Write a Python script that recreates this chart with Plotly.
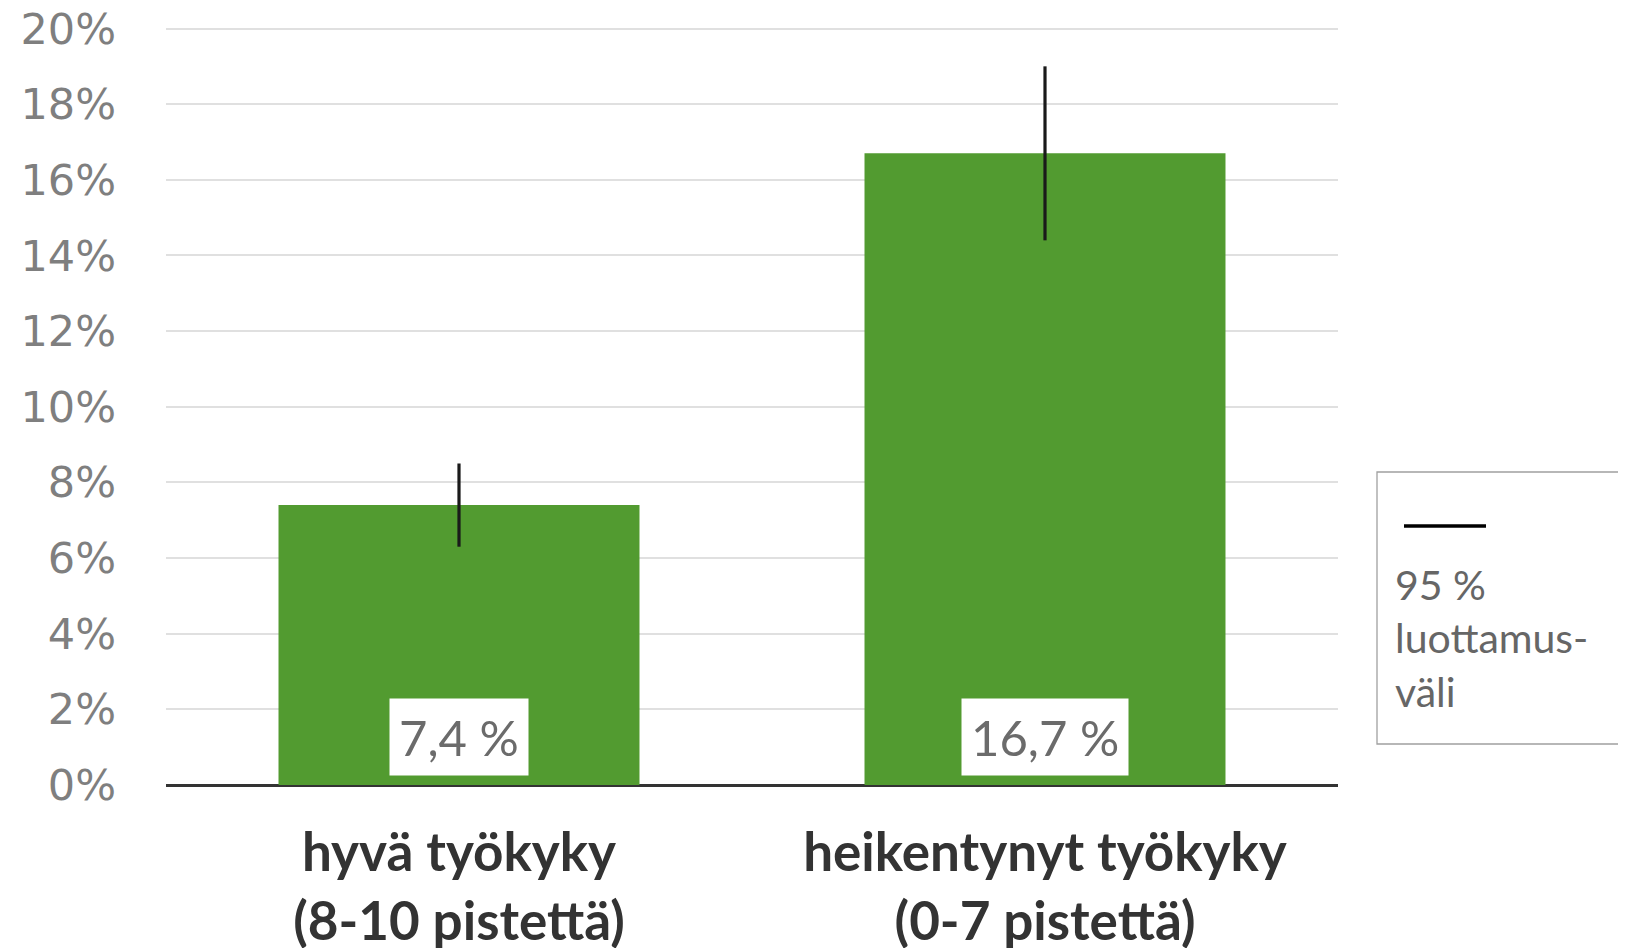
import plotly.graph_objects as go

categories = ["hyvä työkyky<br>(8-10 pistettä)", "heikentynyt työkyky<br>(0-7 pistettä)"]
values = [7.4, 16.7]
err_plus = [1.1, 2.3]
err_minus = [1.1, 2.3]
value_labels = ["7,4 %", "16,7 %"]
tick_vals = [0, 2, 4, 6, 8, 10, 12, 14, 16, 18, 20]
tick_text = [f"{v}%" for v in tick_vals]
legend_text = "95 %<br>luottamus-<br>väli"

OFF = 8  # page body margin
L, R, T, B = 166 - OFF, 1338 - OFF, 27 - OFF, 785 - OFF
PW, PH = R - L, B - T

def px(x):
    return (x - OFF - L) / PW

def py(y):
    return (B - (y - OFF)) / PH

fig = go.Figure()
fig.add_trace(go.Bar(
    x=categories, y=values,
    marker=dict(color="#529B30", line=dict(width=0)),
    error_y=dict(type="data", array=err_plus, arrayminus=err_minus,
                 color="#1a1a1a", thickness=3.2, width=0),
    showlegend=False, hoverinfo="skip",
))

for c, v, t in zip(categories, values, value_labels):
    fig.add_annotation(x=c, y=0, xref="x", yref="y", text=t, showarrow=False,
                       yanchor="bottom", yshift=9, bgcolor="white", borderpad=9,
                       font=dict(family="Lato, Noto Sans", size=49, color="#6b6b6b"))

# legend box
fig.add_shape(type="rect", xref="paper", yref="paper", x0=px(1377), x1=px(1650),
              y0=py(744), y1=py(472), line=dict(color="#a0a0a0", width=1.3), fillcolor="white")
fig.add_shape(type="line", xref="paper", yref="paper", x0=px(1404), x1=px(1486),
              y0=py(526), y1=py(526), line=dict(color="black", width=3.5))
fig.add_annotation(xref="paper", yref="paper", x=px(1393), y=py(558),
                   xanchor="left", yanchor="top", align="left", showarrow=False,
                   text=legend_text,
                   font=dict(family="Lato, Noto Sans", size=41, color="#666666"))

fig.update_layout(
    width=1626, height=948,
    margin=dict(l=L, r=1626 - R, t=T, b=948 - B, autoexpand=False),
    plot_bgcolor="white", paper_bgcolor="white",
    bargap=0.384,
    xaxis=dict(showline=False, automargin=False,
               tickfont=dict(family="Lato", size=53, color="#333333", weight="bold"),
               ticks="", ticklabelstandoff=32, ticklabeloverflow="allow"),
    yaxis=dict(range=[0, 20.04], tickvals=tick_vals, ticktext=tick_text, automargin=False,
               tickfont=dict(family="DejaVu Sans", size=43, color="#7f7f7f"),
               showgrid=True, gridcolor="#e0e0e0", gridwidth=1.6,
               zeroline=True, zerolinecolor="#333333", zerolinewidth=3,
               showline=False, ticks="", ticklabelstandoff=49, ticklabeloverflow="allow"),
)

fig.write_html("out.html")
